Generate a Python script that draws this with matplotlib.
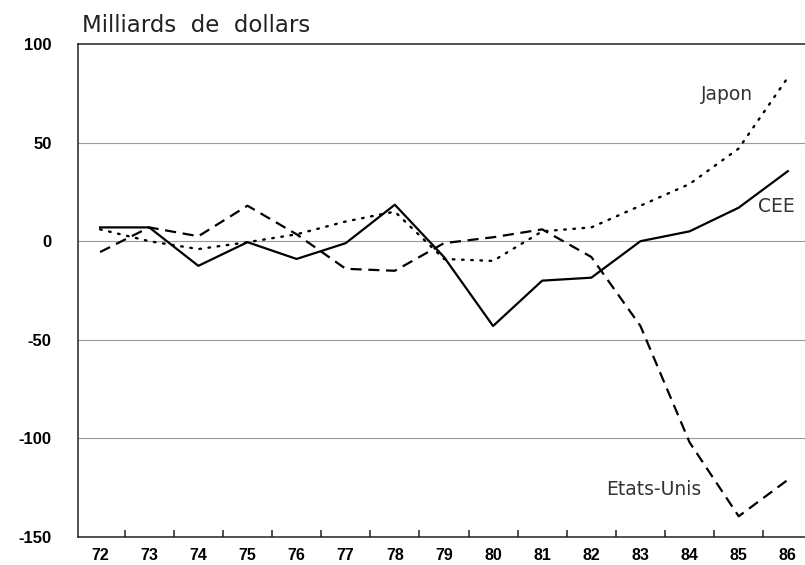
import matplotlib
matplotlib.use("Agg")
import matplotlib.pyplot as plt
import numpy as np

years = list(range(72, 87))
year_labels = [str(y) for y in years]
cee = [7, 7, -12.5, -0.5, -9, -1, 18.5, -8, -43, -20, -18.5, 0, 5, 17, 35.5]
etats_unis = [-5.5, 7, 2.5, 18, 3.5, -14, -15, -1, 2, 6, -8, -43, -102, -139.5, -121]
japon = [6, 0, -4, -0.5, 3.5, 10, 15, -9, -10, 5, 7, 18, 29, 47, 83]
yticks = [100, 50, 0, -50, -100, -150]

fig = plt.figure(figsize=(8.05, 5.65), dpi=100)
ax = fig.add_axes([78/805, 1-537/565, 1-78/805, (537-44)/565])

for v in [50, 0, -50, -100]:
    ax.axhline(v, color="#9a9a9a", lw=0.8, zorder=1)

ax.plot(years, cee, color="black", lw=1.6, ls="-", zorder=3)
ax.plot(years, etats_unis, color="black", lw=1.6, ls=(0, (5, 3)), zorder=3)
ax.plot(years, japon, color="black", lw=1.7, ls=(0, (0.7, 3.2)), dash_capstyle="round", zorder=3)

ax.set_xlim(71.55, 86.35)
ax.set_ylim(-150, 100)
ax.spines["right"].set_visible(False)
for s in ["left", "top", "bottom"]:
    ax.spines[s].set_linewidth(1.1)
    ax.spines[s].set_color("#222222")

ax.set_yticks(yticks)
ax.set_yticklabels([str(v) for v in yticks], fontfamily="Liberation Sans", fontweight="bold", fontsize=12)
ax.tick_params(axis="y", length=0, pad=19)

ax.set_xticks(years)
ax.set_xticklabels(year_labels, fontfamily="Liberation Sans", fontweight="bold", fontsize=11.5)
ax.set_xticks([y + 0.5 for y in years[:-1]], minor=True)
ax.tick_params(axis="x", which="major", length=0, pad=8)
ax.tick_params(axis="x", which="minor", direction="in", length=5, width=1.1, color="#222222")

fig.text(82/805, 1-25/565, "Milliards  de  dollars", fontfamily="DejaVu Sans", fontsize=16.5, va="center", ha="left", color="#222222")

lab = dict(fontfamily="DejaVu Sans", fontsize=13.5, va="center", color="#333333")
ax.text(85.3, 74.5, "Japon", ha="right", **lab)
ax.text(85.4, 17.5, "CEE", ha="left", **lab)
ax.text(84.25, -126, "Etats-Unis", ha="right", **lab)

fig.savefig("out.png", dpi=100)
